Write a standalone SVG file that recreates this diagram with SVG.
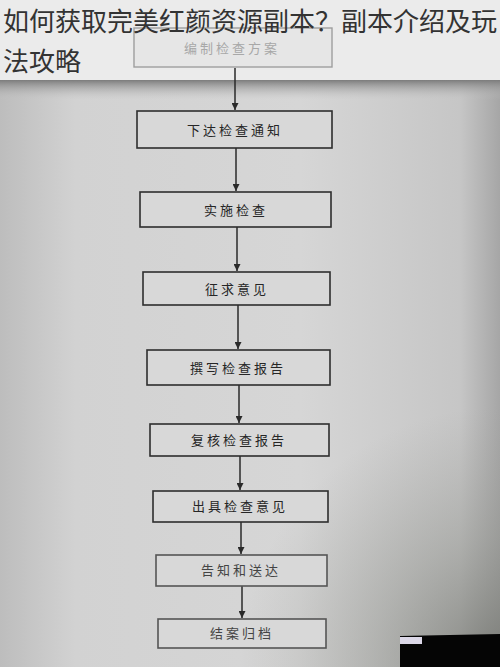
<svg xmlns="http://www.w3.org/2000/svg" width="500" height="667" viewBox="0 0 500 667">
<defs>
<linearGradient id="topband" x1="0" y1="0" x2="0" y2="1">
<stop offset="0" stop-color="#7c7c7c"/>
<stop offset="1" stop-color="#c6c6c6" stop-opacity="0"/>
</linearGradient>
<linearGradient id="paper" x1="0" y1="0" x2="1" y2="0">
<stop offset="0" stop-color="#bdbdbd"/>
<stop offset="0.15" stop-color="#d2d2d2"/>
<stop offset="0.6" stop-color="#d6d6d6"/>
<stop offset="0.92" stop-color="#c6c6c6"/>
<stop offset="1" stop-color="#a6a6a6"/>
</linearGradient>
<radialGradient id="br" cx="500" cy="667" r="260" gradientUnits="userSpaceOnUse">
<stop offset="0" stop-color="#6a6c66" stop-opacity="0.75"/>
<stop offset="0.5" stop-color="#8a8c86" stop-opacity="0.4"/>
<stop offset="1" stop-color="#9a9b96" stop-opacity="0"/>
</radialGradient>
<marker id="arr" viewBox="0 0 10 10" refX="10" refY="5" markerWidth="7" markerHeight="7" orient="auto" markerUnits="userSpaceOnUse">
<path d="M0,0 L10,5 L0,10 z" fill="#2a2a2a"/>
</marker>
<style>
.box{fill:#d8d8d8;stroke:#2e2e2e;stroke-width:1.6}
.lbl{font-family:"Noto Sans CJK SC","Noto Sans CJK JP",sans-serif;font-size:13px;fill:#262626;text-anchor:middle;letter-spacing:3px}
.con{stroke:#2a2a2a;stroke-width:1.5;fill:none}
.title{font-family:"Noto Sans CJK SC","Noto Sans CJK JP",sans-serif;font-size:26px;fill:#333333}
</style>
</defs>
<rect x="0" y="0" width="500" height="667" fill="url(#paper)"/>
<rect x="0" y="80" width="500" height="20" fill="url(#topband)"/>
<rect x="0" y="0" width="500" height="667" fill="url(#br)"/>
<polygon points="400,636 500,634 500,667 400,667" fill="#050505"/>
<rect x="400" y="637" width="22" height="7" fill="#dcd8e8"/>
<rect x="0" y="0" width="500" height="80" fill="#ebebeb"/>
<g id="connectors">
<line class="con" x1="235" y1="68" x2="235" y2="110" marker-end="url(#arr)"/>
<line class="con" x1="236" y1="148" x2="236" y2="191" marker-end="url(#arr)"/>
<line class="con" x1="237" y1="227" x2="237" y2="271" marker-end="url(#arr)"/>
<line class="con" x1="238" y1="305" x2="238" y2="349" marker-end="url(#arr)"/>
<line class="con" x1="239" y1="385" x2="239" y2="423" marker-end="url(#arr)"/>
<line class="con" x1="240" y1="456" x2="240" y2="490" marker-end="url(#arr)"/>
<line class="con" x1="241" y1="522" x2="241" y2="554" marker-end="url(#arr)"/>
<line class="con" x1="242" y1="586" x2="242" y2="618" marker-end="url(#arr)"/>
</g>
<g id="n1">
<rect x="134" y="28" width="198" height="39" fill="#e6e6e6" stroke="#9e9e9e" stroke-width="1.4"/>
<text class="lbl" x="232" y="53" style="fill:#a8a8a8">编制检查方案</text>
</g>
<g id="n2">
<rect class="box" x="137" y="111" width="195" height="37"/>
<text class="lbl" x="235" y="135">下达检查通知</text>
</g>
<g id="n3">
<rect class="box" x="140" y="192" width="191" height="35"/>
<text class="lbl" x="236" y="215">实施检查</text>
</g>
<g id="n4">
<rect class="box" x="143" y="272" width="187" height="33"/>
<text class="lbl" x="237" y="294">征求意见</text>
</g>
<g id="n5">
<rect class="box" x="147" y="350" width="183" height="35"/>
<text class="lbl" x="238" y="373">撰写检查报告</text>
</g>
<g id="n6">
<rect class="box" x="150" y="424" width="179" height="32"/>
<text class="lbl" x="239" y="445">复核检查报告</text>
</g>
<g id="n7">
<rect class="box" x="153" y="491" width="175" height="31"/>
<text class="lbl" x="240" y="511">出具检查意见</text>
</g>
<g id="n8">
<rect class="box" x="156" y="555" width="171" height="31" style="stroke:#555"/>
<text class="lbl" x="241" y="575" style="fill:#444">告知和送达</text>
</g>
<g id="n9">
<rect class="box" x="158" y="619" width="168" height="29" style="stroke:#555"/>
<text class="lbl" x="242" y="638" style="fill:#444">结案归档</text>
</g>
<text class="title" x="3" y="31">如何获取完美红颜资源副本？副本介绍及玩</text>
<text class="title" x="3" y="71">法攻略</text>
</svg>
